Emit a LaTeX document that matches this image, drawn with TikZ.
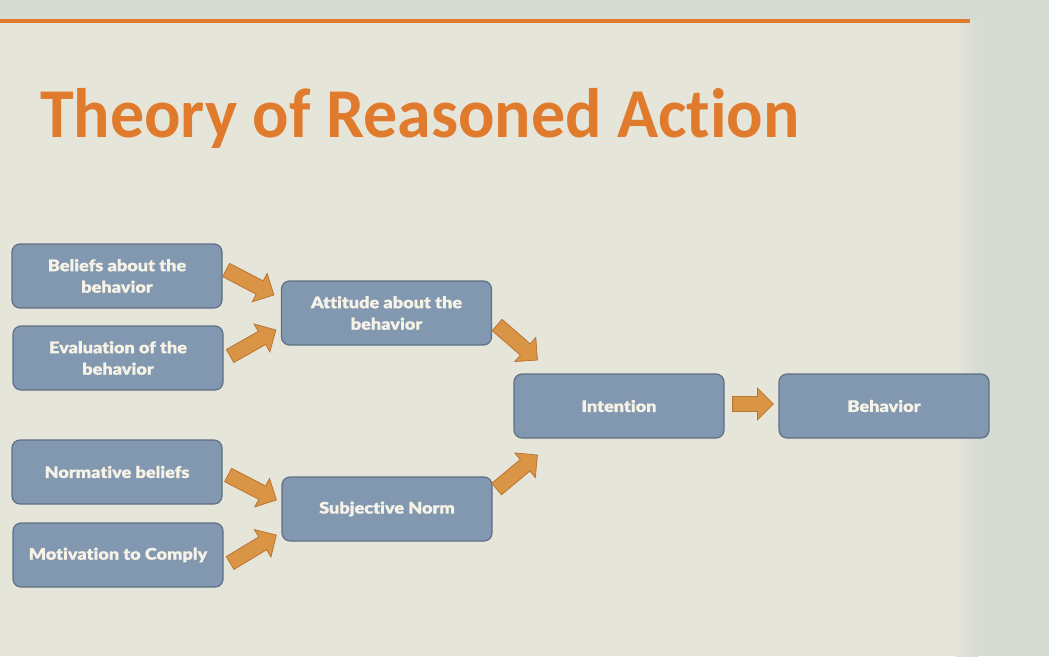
\documentclass[tikz,border=0pt]{standalone}
\usepackage{fontspec}
\usetikzlibrary{calc}
\newfontfamily\titlefont{Carlito}[Ligatures=NoCommon]
\newfontfamily\boxfont{Lato Black}[Ligatures=NoCommon, FakeStretch=1.13, FakeBold=0.6]
\definecolor{bgmain}{RGB}{230,229,218}
\definecolor{bgside}{RGB}{214,220,212}
\definecolor{torange}{RGB}{224,123,46}
\definecolor{boxfill}{RGB}{130,152,176}
\definecolor{boxline}{RGB}{95,112,132}
\definecolor{boxtext}{RGB}{246,242,230}
\definecolor{arrfill}{RGB}{218,148,70}
\definecolor{arrline}{RGB}{185,118,50}
\tikzset{
  box/.style={draw=boxline, line width=1.2pt, fill=boxfill, rounded corners=8pt,
    minimum width=210pt, minimum height=64pt, inner sep=2pt, align=center,
    text=boxtext, font=\boxfont\fontsize{16}{21.5}\selectfont},
  blockarrow/.style={draw=arrline, line width=0.8pt, fill=arrfill, line join=miter},
}
\newcommand\barrow[2]{%
  \path[blockarrow] let \p1=(#1), \p2=(#2),
    \n1={atan2(\y2-\y1,\x2-\x1)}, \n2={veclen(\x2-\x1,\y2-\y1)} in
    [shift={(\p1)}, rotate=\n1]
    (0pt,-7.5pt) -- (\n2-16pt,-7.5pt) -- (\n2-16pt,-16pt) -- (\n2,0pt)
    -- (\n2-16pt,16pt) -- (\n2-16pt,7.5pt) -- (0pt,7.5pt) -- cycle;}
\begin{document}
\begin{tikzpicture}[x=1pt,y=-1pt]
\useasboundingbox (0,0) rectangle (1049,656);
\fill[bgmain] (0,0) rectangle (1049,656);
\shade[left color=bgmain, right color=bgside] (955,0) rectangle (978,656);
\fill[bgside] (977,0) rectangle (1049,656);
\fill[bgside] (0,0) rectangle (1049,19);
\draw[torange, line width=4pt] (0,21) -- (970,21);
\node[anchor=base west, inner sep=0pt, text=torange, xscale=0.97,
  font=\titlefont\bfseries\fontsize{70}{80}\selectfont] (title) at (40,137)
  {Theory of Reasoned Action};

\node[box] (bel) at (117,276) {Beliefs about the\\behavior};
\node[box] (eva) at (118,358) {Evaluation of the\\behavior};
\node[box] (att) at (386.5,313) {Attitude about the\\behavior};
\node[box] (nor) at (117,472) {Normative beliefs};
\node[box] (mot) at (118,555) {Motivation to Comply};
\node[box] (sub) at (387,509) {Subjective Norm};
\node[box] (int) at (619,406) {Intention};
\node[box] (beh) at (884,406) {Behavior};

\coordinate (a1s) at ($(bel.east)+(3.5,-6)$);
\coordinate (a1e) at ($(att.west)+(-7,-18)$);
\coordinate (a2s) at ($(eva.east)+(6.5,-2)$);
\coordinate (a2e) at ($(att.west)+(-5,17)$);
\coordinate (a5s) at ($(nor.east)+(5.5,3)$);
\coordinate (a5e) at ($(sub.west)+(-5,-9)$);
\coordinate (a6s) at ($(mot.east)+(6.5,8)$);
\coordinate (a6e) at ($(sub.west)+(-5,26)$);
\coordinate (a3s) at ($(att.east)+(5,12)$);
\coordinate (a3e) at ($(int.west)+(24,-46)$);
\coordinate (a4s) at ($(sub.east)+(4,-20)$);
\coordinate (a4e) at ($(int.west)+(24,49)$);
\coordinate (a7s) at ($(int.east)+(8,-2)$);
\coordinate (a7e) at ($(beh.west)+(-5,-2)$);

\barrow{a1s}{a1e}
\barrow{a2s}{a2e}
\barrow{a5s}{a5e}
\barrow{a6s}{a6e}
\barrow{a3s}{a3e}
\barrow{a4s}{a4e}
\barrow{a7s}{a7e}
\end{tikzpicture}
\end{document}
